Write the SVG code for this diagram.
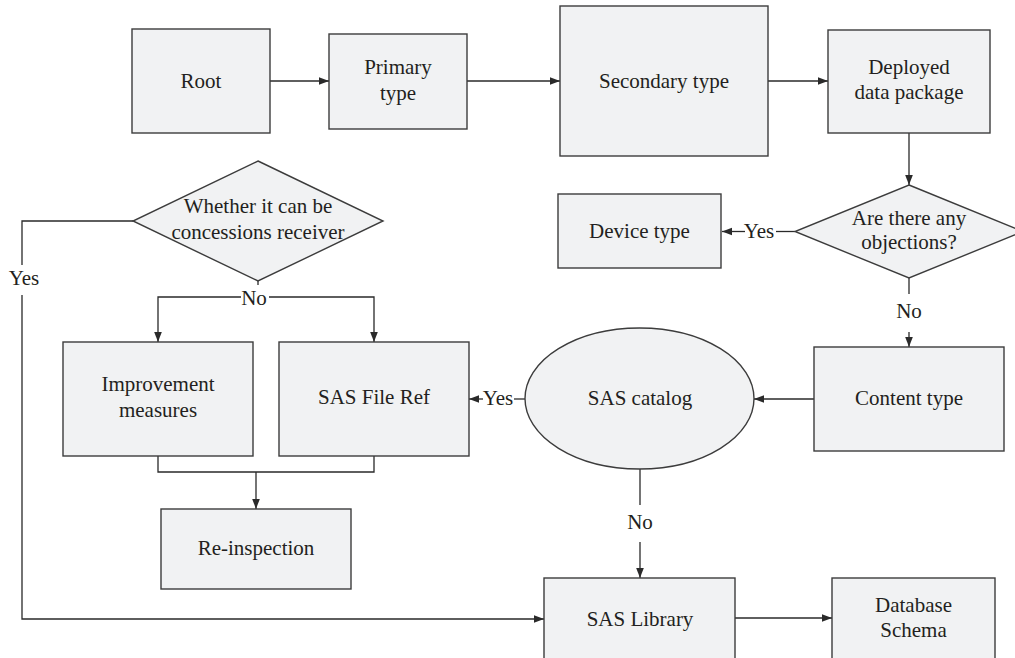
<svg xmlns="http://www.w3.org/2000/svg" width="1015" height="658" viewBox="0 0 1015 658">
<style>
.n{fill:#f1f2f3;stroke:#3c3c3c;stroke-width:1.4}
.t{font-family:"Liberation Serif","Times New Roman",serif;font-size:21px;fill:#231f20;text-anchor:middle}
.c{fill:none;stroke:#2a2a2a;stroke-width:1.3}
</style>
<defs>
<marker id="a" markerUnits="userSpaceOnUse" markerWidth="10" markerHeight="10" viewBox="0 0 10 10" refX="10" refY="5" orient="auto">
<path d="M0,1.2 L10,5 L0,8.8 Z" fill="#2a2a2a"/>
</marker>
</defs>
<rect width="1015" height="658" fill="#ffffff"/>
<g id="connectors">
<path class="c" d="M270 81 H329" marker-end="url(#a)"/>
<path class="c" d="M467 81 H560" marker-end="url(#a)"/>
<path class="c" d="M768 81 H828" marker-end="url(#a)"/>
<path class="c" d="M909 133 V185" marker-end="url(#a)"/>
<path class="c" d="M795 231.5 H776"/>
<path class="c" d="M745 231.5 H722" marker-end="url(#a)"/>
<path class="c" d="M909 278 V294"/>
<path class="c" d="M909 332 V347" marker-end="url(#a)"/>
<path class="c" d="M814 399 H754" marker-end="url(#a)"/>
<path class="c" d="M525 399 H514"/>
<path class="c" d="M483 399 H469" marker-end="url(#a)"/>
<path class="c" d="M640 469 V505"/>
<path class="c" d="M640 542 V578" marker-end="url(#a)"/>
<path class="c" d="M258 281 V285"/>
<path class="c" d="M241 297 H158 V342" marker-end="url(#a)"/>
<path class="c" d="M269 297 H374 V342" marker-end="url(#a)"/>
<path class="c" d="M133 221 H22 V265"/>
<path class="c" d="M22 295 V619 H544" marker-end="url(#a)"/>
<path class="c" d="M158 456 V472 H374 V456"/>
<path class="c" d="M256 472 V509" marker-end="url(#a)"/>
<path class="c" d="M735 618 H832" marker-end="url(#a)"/>
<text class="t" x="759" y="238">Yes</text>
<text class="t" x="909" y="318">No</text>
<text class="t" x="498" y="405">Yes</text>
<text class="t" x="640" y="529">No</text>
<text class="t" x="254" y="305">No</text>
<text class="t" x="24" y="285">Yes</text>
</g>
<g id="root"><rect class="n" x="132" y="29" width="138" height="104"/><text class="t" x="201" y="88">Root</text></g>
<g id="primary"><rect class="n" x="329" y="34" width="138" height="95"/><text class="t" x="398" y="74">Primary</text><text class="t" x="398" y="100">type</text></g>
<g id="secondary"><rect class="n" x="560" y="6" width="208" height="150"/><text class="t" x="664" y="88">Secondary type</text></g>
<g id="deployed"><rect class="n" x="828" y="30" width="162" height="103"/><text class="t" x="909" y="74">Deployed</text><text class="t" x="909" y="99">data package</text></g>
<g id="objections"><polygon class="n" points="909,185 1023,231.5 909,278 795,231.5"/><text class="t" x="909" y="225">Are there any</text><text class="t" x="909" y="249">objections?</text></g>
<g id="device"><rect class="n" x="558" y="194" width="163" height="74"/><text class="t" x="639.5" y="238">Device type</text></g>
<g id="content"><rect class="n" x="814" y="347" width="190" height="104"/><text class="t" x="909" y="405">Content type</text></g>
<g id="catalog"><ellipse class="n" cx="639.5" cy="398.5" rx="114.5" ry="70.5"/><text class="t" x="640" y="405">SAS catalog</text></g>
<g id="whether"><polygon class="n" points="258,161 383,221 258,281 133,221"/><text class="t" x="258" y="213">Whether it can be</text><text class="t" x="258" y="239">concessions receiver</text></g>
<g id="improvement"><rect class="n" x="63" y="342" width="190" height="114"/><text class="t" x="158" y="391">Improvement</text><text class="t" x="158" y="417">measures</text></g>
<g id="fileref"><rect class="n" x="279" y="342" width="190" height="114"/><text class="t" x="374" y="404">SAS File Ref</text></g>
<g id="reinspection"><rect class="n" x="161" y="509" width="190" height="80"/><text class="t" x="256" y="555">Re-inspection</text></g>
<g id="library"><rect class="n" x="544" y="578" width="191" height="90"/><text class="t" x="640" y="626">SAS Library</text></g>
<g id="database"><rect class="n" x="832" y="578" width="163" height="90"/><text class="t" x="913.5" y="612">Database</text><text class="t" x="913.5" y="637">Schema</text></g>
</svg>
